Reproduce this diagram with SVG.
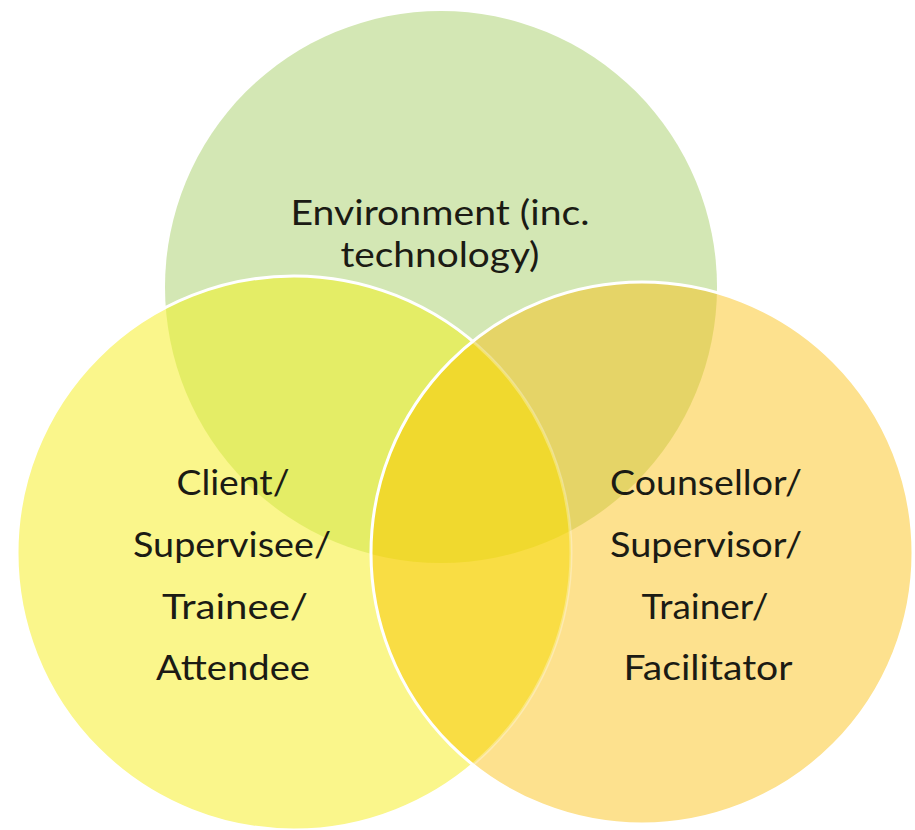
<svg xmlns="http://www.w3.org/2000/svg" width="915" height="830" viewBox="0 0 915 830">
<style>
.lbl{font-family:Lato,"Liberation Sans",sans-serif;font-size:34px;fill:#1b1b14;text-anchor:middle}
.edge{fill:none;stroke:#ffffff;stroke-width:3}
</style>
<defs>
<circle id="cirG" cx="441" cy="287" r="276"/>
<circle id="cirL" cx="294" cy="553" r="277"/>
<circle id="cirR" cx="642" cy="553" r="271"/>
<clipPath id="clipL"><use href="#cirL"/></clipPath>
<clipPath id="clipR"><use href="#cirR"/></clipPath>
</defs>
<rect width="915" height="830" fill="#ffffff"/>
<g id="node-environment">
<use href="#cirG" fill="#d3e7b4"/>
<text class="lbl" x="440" y="225" textLength="299" lengthAdjust="spacingAndGlyphs">Environment (inc.</text>
<text class="lbl" x="440" y="267" textLength="199" lengthAdjust="spacingAndGlyphs">technology)</text>
</g>
<g id="node-client">
<use href="#cirL" fill="#faf68b"/>
<g clip-path="url(#clipL)"><use href="#cirG" fill="#e4ed66"/></g>
<use href="#cirL" class="edge"/>
<text class="lbl" x="233" y="495" textLength="113" lengthAdjust="spacingAndGlyphs">Client/</text>
<text class="lbl" x="232" y="557" textLength="198" lengthAdjust="spacingAndGlyphs">Supervisee/</text>
<text class="lbl" x="235" y="619" textLength="146" lengthAdjust="spacingAndGlyphs">Trainee/</text>
<text class="lbl" x="233" y="680" textLength="154" lengthAdjust="spacingAndGlyphs">Attendee</text>
</g>
<g id="node-counsellor">
<use href="#cirR" fill="#fde18e"/>
<g clip-path="url(#clipR)">
<use href="#cirG" fill="#e5d467"/>
<use href="#cirL" fill="#f9dd44"/>
<g clip-path="url(#clipL)"><use href="#cirG" fill="#f0d92e"/></g>
<use href="#cirL" class="edge" stroke-opacity="0.3"/>
</g>
<use href="#cirR" class="edge"/>
<text class="lbl" x="706" y="495" textLength="192" lengthAdjust="spacingAndGlyphs">Counsellor/</text>
<text class="lbl" x="706" y="557" textLength="192" lengthAdjust="spacingAndGlyphs">Supervisor/</text>
<text class="lbl" x="705" y="619" textLength="127" lengthAdjust="spacingAndGlyphs">Trainer/</text>
<text class="lbl" x="708" y="680" textLength="169" lengthAdjust="spacingAndGlyphs">Facilitator</text>
</g>
</svg>
